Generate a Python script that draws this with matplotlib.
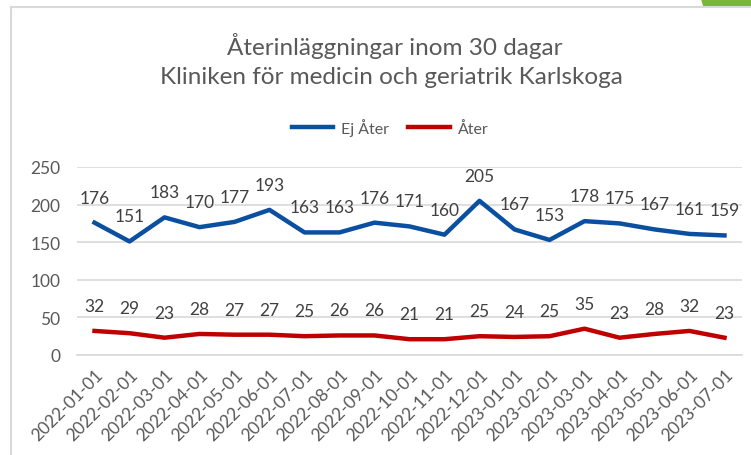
import matplotlib
matplotlib.use("Agg")
import matplotlib.pyplot as plt
from matplotlib.patches import Polygon
from matplotlib.lines import Line2D

dates = ["2022-01-01","2022-02-01","2022-03-01","2022-04-01","2022-05-01","2022-06-01",
         "2022-07-01","2022-08-01","2022-09-01","2022-10-01","2022-11-01","2022-12-01",
         "2023-01-01","2023-02-01","2023-03-01","2023-04-01","2023-05-01","2023-06-01","2023-07-01"]
ej_ater = [176,151,183,170,177,193,163,163,176,171,160,205,167,153,178,175,167,161,159]
ater = [32,29,23,28,27,27,25,26,26,21,21,25,24,25,35,23,28,32,23]
yticks = [0,50,100,150,200,250]

plt.rcParams['font.family'] = ['Lato', 'DejaVu Sans']
W, H = 751, 456
fig = plt.figure(figsize=(W/100, H/100), dpi=100)
fig.patch.set_facecolor('white')

def px(x, y):
    return (x / W, 1 - y / H)

# chart border (partial) and green corner
fig.add_artist(Line2D([11/W, 11/W], [0, 1 - 7.5/H], transform=fig.transFigure, color='#d9d9d9', lw=1.5))
fig.add_artist(Line2D([11/W, 1], [1 - 7.5/H, 1 - 7.5/H], transform=fig.transFigure, color='#d9d9d9', lw=1.5))
fig.add_artist(Polygon([px(701, 0), px(751, 0), px(751, 6.5), px(703, 6.5)], closed=True,
                       transform=fig.transFigure, facecolor='#7ab637', edgecolor='none'))

x0, x1 = 77, 742
y0, y1 = 168, 356
ax = fig.add_axes([x0/W, 1 - y1/H, (x1-x0)/W, (y1-y0)/H])
n = len(dates)
xs = list(range(n))
ax.set_xlim(-0.5, n - 0.5)
ax.set_ylim(0, 250)
ax.set_yticks(yticks)
ax.set_yticklabels([str(v) for v in yticks])
ax.grid(axis='y', color='#d9d9d9', lw=1.2)
ax.set_axisbelow(True)
for s in ['top', 'right', 'left']:
    ax.spines[s].set_visible(False)
ax.spines['bottom'].set_color('#d9d9d9')
ax.spines['bottom'].set_linewidth(1.2)
ax.tick_params(axis='both', length=0, labelsize=12.5, labelcolor='#595959')
ax.tick_params(axis='y', pad=12)
ax.set_xticks(xs)
ax.set_xticklabels(dates, rotation=45, ha='right', rotation_mode='anchor')
ax.tick_params(axis='x', pad=8)

blue = '#0a4fa0'
red = '#c00000'
ax.plot(xs, ej_ater, color=blue, lw=3.2, solid_joinstyle='round', label='Ej Åter')
ax.plot(xs, ater, color=red, lw=3.2, solid_joinstyle='round', label='Åter')
for x, v in zip(xs, ej_ater):
    ax.annotate(str(v), (x, v), xytext=(0, 18), textcoords='offset points', ha='center', va='center',
                fontsize=12.5, color='#404040')
for x, v in zip(xs, ater):
    ax.annotate(str(v), (x, v), xytext=(0, 18), textcoords='offset points', ha='center', va='center',
                fontsize=12.5, color='#404040')

fig.text(395/W, 1 - 46/H, "Återinläggningar inom 30 dagar", ha='center', va='center', fontsize=17.5, color='#595959')
fig.text(391/W, 1 - 78/H, "Kliniken för medicin och geriatrik Karlskoga", ha='center', va='center', fontsize=17.5, color='#595959')

leg = fig.legend(handles=ax.get_lines(), loc='center', bbox_to_anchor=(390/W, 1 - 128/H), ncol=2,
                 frameon=False, fontsize=11.5, labelcolor='#595959', handlelength=2.6, columnspacing=1.2,
                 handletextpad=0.5)

fig.savefig('out.png', dpi=100, facecolor='white')
